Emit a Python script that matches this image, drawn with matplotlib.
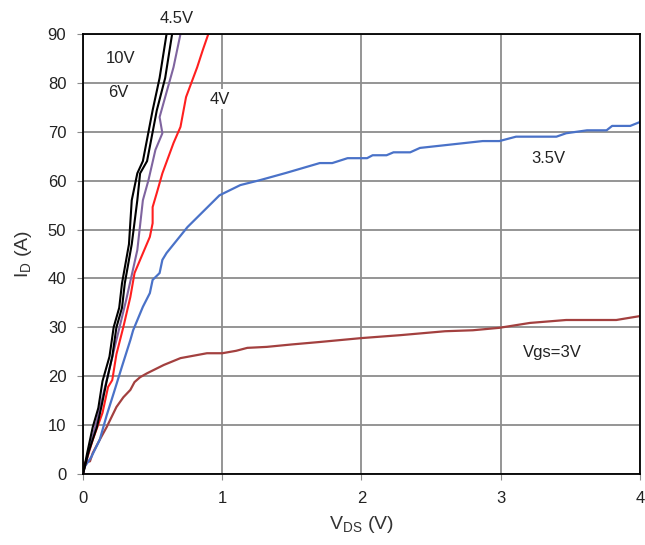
import matplotlib.pyplot as plt

plt.rcParams['font.family'] = ['Liberation Sans', 'DejaVu Sans']

# Vgs = 3V
vds_3 = [0.0, 0.01, 0.05, 0.07, 0.12, 0.17, 0.24, 0.29, 0.34, 0.37, 0.41, 0.46, 0.58, 0.70,
         0.89, 1.0, 1.1, 1.18, 1.32, 1.5, 1.7, 2.0, 2.28, 2.6, 2.8, 2.99, 3.21, 3.47, 3.83, 4.0]
id_3 = [0.0, 2.3, 2.6, 4.3, 7.0, 9.6, 13.7, 15.7, 17.2, 18.8, 19.8, 20.6, 22.3, 23.7,
        24.7, 24.7, 25.2, 25.8, 26.0, 26.5, 27.0, 27.8, 28.4, 29.2, 29.4, 29.9, 30.9, 31.5,
        31.5, 32.3]

# Vgs = 3.5V
vds_35 = [0.0, 0.01, 0.06, 0.12, 0.17, 0.22, 0.28, 0.34, 0.36, 0.43, 0.48, 0.50, 0.55,
          0.57, 0.60, 0.75, 0.98, 1.13, 1.27, 1.46, 1.70, 1.79, 1.90, 2.04, 2.08, 2.18, 2.23,
          2.35, 2.42, 2.87, 2.99, 3.11, 3.40, 3.47, 3.62, 3.76, 3.80, 3.93, 4.0]
id_35 = [0.0, 1.4, 3.5, 7.0, 12.0, 16.5, 22.0, 27.4, 29.4, 34.2, 37.0, 39.7, 41.1,
         43.8, 45.2, 50.5, 57.0, 59.1, 60.1, 61.6, 63.6, 63.6, 64.6, 64.6, 65.2, 65.2, 65.8,
         65.8, 66.7, 68.1, 68.1, 69.0, 69.0, 69.7, 70.3, 70.3, 71.2, 71.2, 72.0]

# Vgs = 4V
vds_4 = [0.0, 0.01, 0.07, 0.14, 0.18, 0.21, 0.24, 0.29, 0.34, 0.37, 0.41, 0.48, 0.50,
         0.50, 0.53, 0.57, 0.65, 0.70, 0.74, 0.82, 0.86, 0.90]
id_4 = [0.0, 1.4, 7.0, 12.5, 17.8, 19.2, 24.5, 30.1, 36.2, 41.1, 43.8, 48.5, 51.3,
        54.6, 57.5, 61.5, 67.7, 71.0, 77.1, 83.2, 86.7, 90.0]

# Vgs = 4.5V
vds_45 = [0.0, 0.03, 0.10, 0.17, 0.24, 0.31, 0.39, 0.43, 0.47, 0.52, 0.57, 0.55, 0.65, 0.70]
id_45 = [0.0, 3.5, 11.0, 19.2, 27.4, 35.6, 45.8, 56.0, 60.1, 66.3, 69.7, 73.0, 83.2, 90.0]

# Vgs = 6V
vds_6 = [0.0, 0.03, 0.07, 0.11, 0.14, 0.19, 0.22, 0.26, 0.28, 0.33, 0.35, 0.39, 0.43,
         0.50, 0.55, 0.60]
id_6 = [0.0, 4.3, 9.6, 13.5, 19.0, 24.0, 30.0, 34.0, 39.0, 47.0, 56.0, 61.5, 64.0,
        74.4, 81.0, 90.0]

# Vgs = 10V
vds_10 = [0.0, 0.04, 0.10, 0.13, 0.17, 0.21, 0.24, 0.28, 0.30, 0.35, 0.39, 0.41, 0.46,
          0.53, 0.59, 0.64]
id_10 = [0.0, 4.5, 9.6, 13.5, 19.0, 24.0, 30.0, 34.0, 39.0, 47.0, 56.0, 61.5, 64.0,
         74.4, 81.0, 90.0]

fig = plt.figure(figsize=(6.45, 5.45), dpi=100)
ax = fig.add_axes([0.1287, 0.1303, 0.8635, 0.8073])

ax.plot(vds_3, id_3, color='#a3403f', lw=1.6)
ax.plot(vds_35, id_35, color='#4a72c8', lw=1.6)
ax.plot(vds_4, id_4, color='#ff1f1f', lw=1.5)
ax.plot(vds_45, id_45, color='#7f649f', lw=1.5)
ax.plot(vds_6, id_6, color='black', lw=1.5)
ax.plot(vds_10, id_10, color='black', lw=1.5)

ax.set_xlim(0, 4)
ax.set_ylim(0, 90)
ax.set_xticks([0, 1, 2, 3, 4])
ax.set_yticks(range(0, 91, 10))
ax.grid(True, color='#8c8c8c', lw=1.3)
ax.set_axisbelow(True)
ax.tick_params(labelsize=12, length=4, color='#8c8c8c', pad=8, labelcolor='#222222')
for s in ax.spines.values():
    s.set_color('black')
    s.set_linewidth(1.3)

ax.set_xlabel('V$_{\\mathregular{DS}}$ (V)', fontsize=14, labelpad=6, color='#333333')
ax.set_ylabel('I$_{\\mathregular{D}}$ (A)', fontsize=14, labelpad=10, color='#333333')

box = dict(facecolor='white', edgecolor='none', pad=2)
ax.text(0.27, 85, '10V', fontsize=12, ha='center', va='center', color='#222222')
ax.text(0.25, 78, '6V', fontsize=12, ha='center', va='center', color='#222222')
ax.text(0.67, 93.2, '4.5V', fontsize=12, ha='center', va='center', bbox=box,
        clip_on=False, color='#222222')
ax.text(0.98, 76.7, '4V', fontsize=12, ha='center', va='center', bbox=box, color='#222222')
ax.text(3.34, 64.6, '3.5V', fontsize=12, ha='center', va='center', color='#222222')
ax.text(3.37, 24.8, 'Vgs=3V', fontsize=12, ha='center', va='center', color='#222222')

fig.savefig('out.png', dpi=100)
